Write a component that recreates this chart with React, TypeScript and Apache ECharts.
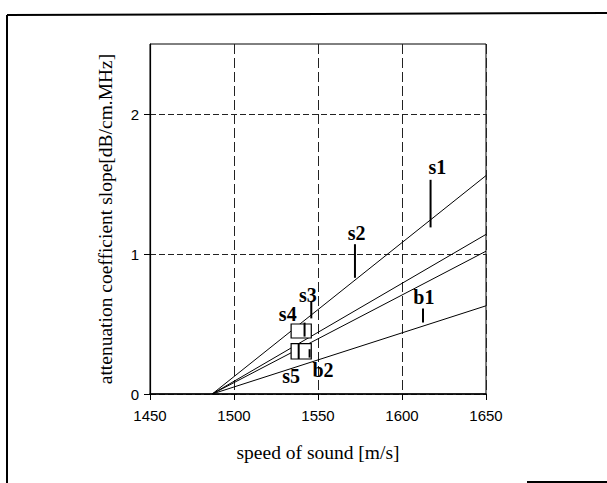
import React, { useEffect, useRef } from "react";
import * as echarts from "echarts";

// Model lines: all start at a common intercept on the x axis and run to x = 1650
const lineStartX = 1487;
const lineEndX = 1650;
const lineEndY = [1.56, 1.14, 1.02, 0.63];

// Vertical error bars (measurements)
const barNames = ["s1", "s2", "s3", "s4", "s5", "b1", "b2"];
const barX = [1617, 1572, 1546, 1542, 1538.5, 1612.5, 1545];
const barLow = [1.19, 0.83, 0.54, 0.41, 0.25, 0.51, 0.26];
const barHigh = [1.53, 1.07, 0.66, 0.51, 0.36, 0.61, 0.32];

// Rectangles (s4, s5)
const boxXLow = [1534, 1534];
const boxXHigh = [1546, 1546];
const boxYLow = [0.4, 0.25];
const boxYHigh = [0.5, 0.36];

// Text labels
const labelText = ["s1", "s2", "s3", "s4", "s5", "b1", "b2"];
const labelX = [1621, 1573, 1544, 1532, 1534, 1613, 1553];
const labelY = [1.62, 1.15, 0.71, 0.57, 0.13, 0.69, 0.17];

const xTicks = [1450, 1500, 1550, 1600, 1650];
const yTicks = [0, 1, 2];

export default function App() {
  const ref = useRef<HTMLDivElement>(null);
  useEffect(() => {
    if (!ref.current) return;
    const chart = echarts.init(ref.current, null, { renderer: "svg" });
    const lineSeries = lineEndY.map((v, i) => ({
      type: "line",
      name: "model" + i,
      data: [
        [lineStartX, 0],
        [lineEndX, v],
      ],
      symbol: "none",
      lineStyle: { color: "#000", width: 1 },
      z: 3,
    }));
    chart.setOption({
      animation: false,
      backgroundColor: "#fff",
      grid: {
        left: 150,
        right: 121,
        top: 44,
        bottom: 89,
        show: true,
        borderColor: "#000",
        borderWidth: 1,
      },
      xAxis: {
        type: "value",
        min: 1450,
        max: 1650,
        interval: 50,
        name: "speed of sound [m/s]",
        nameLocation: "middle",
        nameGap: 48,
        nameTextStyle: { fontFamily: "Liberation Serif", fontSize: 19.5, color: "#000" },
        axisLine: { lineStyle: { color: "#000", width: 1.5 } },
        axisTick: { show: true, length: 6, lineStyle: { color: "#000" }, customValues: xTicks },
        axisLabel: {
          color: "#000",
          fontFamily: "Liberation Sans",
          fontSize: 15,
          margin: 14,
          customValues: xTicks,
          formatter: (v: number) => String(v),
        },
        splitLine: {
          show: true,
          lineStyle: { color: "#222", type: [10, 4], width: 1 },
        },
      },
      yAxis: {
        type: "value",
        min: 0,
        max: 2.5,
        interval: 1,
        name: "attenuation coefficient slope[dB/cm.MHz]",
        nameLocation: "middle",
        nameGap: 35,
        nameTextStyle: { fontFamily: "Liberation Serif", fontSize: 19.5, color: "#000" },
        axisLine: { lineStyle: { color: "#000", width: 1.2 } },
        axisTick: { show: true, length: 6, lineStyle: { color: "#000" }, customValues: yTicks },
        axisLabel: {
          color: "#000",
          fontFamily: "Liberation Sans",
          fontSize: 15,
          margin: 11,
          customValues: yTicks,
          formatter: (v: number) => String(v),
        },
        splitLine: {
          show: true,
          lineStyle: { color: "#222", type: [6, 3], width: 1 },
        },
      },
      graphic: [
        { type: "line", shape: { x1: 7, y1: 15, x2: 7, y2: 483 }, style: { stroke: "#000", lineWidth: 2 } },
        { type: "line", shape: { x1: 7, y1: 15, x2: 607, y2: 13 }, style: { stroke: "#000", lineWidth: 2 } },
        { type: "line", shape: { x1: 527, y1: 482, x2: 607, y2: 482 }, style: { stroke: "#000", lineWidth: 2 } },
      ],
      series: [
        ...lineSeries,
        {
          type: "custom",
          name: "boxes",
          z: 4,
          data: boxXLow.map((x, i) => [x, boxYLow[i], boxXHigh[i], boxYHigh[i]]),
          encode: { x: [0, 2], y: [1, 3] },
          renderItem: (params: any, api: any) => {
            const p1 = api.coord([api.value(0), api.value(3)]);
            const p2 = api.coord([api.value(2), api.value(1)]);
            return {
              type: "rect",
              shape: { x: p1[0], y: p1[1], width: p2[0] - p1[0], height: p2[1] - p1[1] },
              style: { fill: "#fff", stroke: "#000", lineWidth: 1.2 },
            };
          },
        },
        {
          type: "custom",
          name: "bars",
          z: 5,
          data: barX.map((x, i) => [x, barLow[i], barHigh[i]]),
          encode: { x: 0, y: [1, 2] },
          renderItem: (params: any, api: any) => {
            const p1 = api.coord([api.value(0), api.value(1)]);
            const p2 = api.coord([api.value(0), api.value(2)]);
            return {
              type: "line",
              shape: { x1: p1[0], y1: p1[1], x2: p2[0], y2: p2[1] },
              style: { stroke: "#000", lineWidth: 2 },
            };
          },
        },
        {
          type: "custom",
          name: "labels",
          z: 6,
          data: labelX.map((x, i) => [x, labelY[i], i]),
          encode: { x: 0, y: 1 },
          renderItem: (params: any, api: any) => {
            const p = api.coord([api.value(0), api.value(1)]);
            const idx = api.value(2);
            return {
              type: "text",
              x: p[0],
              y: p[1],
              style: {
                text: labelText[idx],
                fill: "#000",
                font: 'bold 20px "Liberation Serif"',
                align: "center",
                verticalAlign: "middle",
              },
            };
          },
        },
      ],
    });
    return () => chart.dispose();
  }, []);
  return (
    <div
      ref={ref}
      style={{ position: "fixed", left: 0, top: 0, width: 607, height: 483, background: "#fff" }}
    />
  );
}
